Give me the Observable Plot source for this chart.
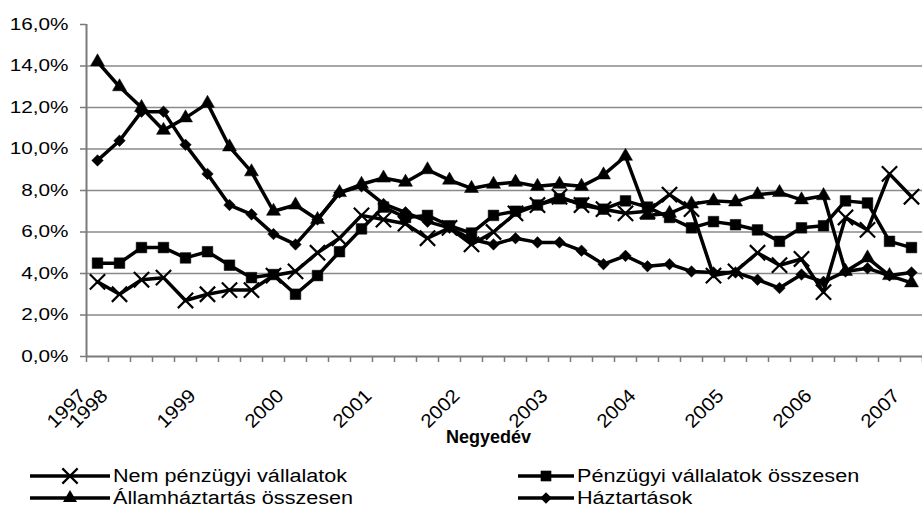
<!DOCTYPE html>
<html>
<head>
<meta charset="utf-8">
<script src="https://cdn.jsdelivr.net/npm/d3@7"></script>
<script src="https://cdn.jsdelivr.net/npm/@observablehq/plot@0.6"></script>
<style>
  html, body { margin: 0; padding: 0; background: #fff; }
  body { width: 922px; height: 513px; position: relative; overflow: hidden;
         font-family: "Liberation Sans", Arial, sans-serif; color: #000; }
  #chart { position: absolute; left: 0; top: 0; }
  .lg { position: absolute; display: flex; align-items: center; height: 22px; }
  .lg span { font-size: 18px; display: inline-block; transform: scaleX(1.2); transform-origin: left center; white-space: nowrap; }
  .lg svg { display: block; }
</style>
</head>
<body>
<div id="chart"></div>
<div id="legend"></div>
<script>
// ---- Data ----
const quarters = [
  "1997 Q4",
  "1998 Q1","1998 Q2","1998 Q3","1998 Q4",
  "1999 Q1","1999 Q2","1999 Q3","1999 Q4",
  "2000 Q1","2000 Q2","2000 Q3","2000 Q4",
  "2001 Q1","2001 Q2","2001 Q3","2001 Q4",
  "2002 Q1","2002 Q2","2002 Q3","2002 Q4",
  "2003 Q1","2003 Q2","2003 Q3","2003 Q4",
  "2004 Q1","2004 Q2","2004 Q3","2004 Q4",
  "2005 Q1","2005 Q2","2005 Q3","2005 Q4",
  "2006 Q1","2006 Q2","2006 Q3","2006 Q4",
  "2007 Q1"
];
const tickQuarters = ["1997 Q4","1998 Q1","1999 Q1","2000 Q1","2001 Q1","2002 Q1","2003 Q1","2004 Q1","2005 Q1","2006 Q1","2007 Q1"];
const tickLabels   = ["1997","1998","1999","2000","2001","2002","2003","2004","2005","2006","2007"];
const yTicks = [0, 2, 4, 6, 8, 10, 12, 14, 16];

const seriesNames = ["Nem pénzügyi vállalatok", "Pénzügyi vállalatok összesen", "Államháztartás összesen", "Háztartások"];

const nemPenzugyi = [3.6, 3.0, 3.7, 3.8, 2.7, 3.0, 3.2, 3.2, 3.9, 4.1,
  5.0, 5.7, 6.8, 6.6, 6.4, 5.7, 6.2, 5.4, 6.0, 6.9,
  7.3, 7.7, 7.3, 7.1, 6.9, 7.0, 7.8, 7.1, 3.9, 4.1,
  5.0, 4.4, 4.7, 3.1, 6.7, 6.1, 8.8, 7.7];
const penzugyi = [4.5, 4.5, 5.25, 5.25, 4.75, 5.05, 4.4, 3.8, 3.95, 3.0,
  3.9, 5.05, 6.15, 7.2, 6.7, 6.8, 6.3, 5.95, 6.8, 7.0,
  7.3, 7.6, 7.4, 7.1, 7.5, 7.2, 6.7, 6.2, 6.5, 6.35,
  6.1, 5.55, 6.2, 6.3, 7.5, 7.4, 5.55, 5.25];
const allamhaztartas = [14.2, 13.0, 12.0, 10.9, 11.5, 12.2, 10.1, 8.9, 7.0, 7.3,
  6.6, 7.9, 8.3, 8.6, 8.4, 9.0, 8.5, 8.1, 8.3, 8.4,
  8.2, 8.3, 8.2, 8.75, 9.65, 6.8, 6.9, 7.35, 7.5, 7.45,
  7.8, 7.9, 7.55, 7.75, 4.1, 4.75, 3.9, 3.55];
const haztartasok = [9.45, 10.4, 11.8, 11.8, 10.2, 8.8, 7.3, 6.85, 5.9, 5.4,
  6.6, 7.9, 8.2, 7.35, 6.95, 6.5, 6.2, 5.65, 5.4, 5.7,
  5.5, 5.5, 5.1, 4.45, 4.85, 4.35, 4.45, 4.1, 4.05, 4.05,
  3.7, 3.3, 3.95, 3.6, 4.1, 4.25, 3.9, 4.05];

// ---- Build tables ----
const seriesValues = [nemPenzugyi, penzugyi, allamhaztartas, haztartasok];
const symbolNames = ["times", "square", "triangle", "diamond2"];
const d3Symbols = [d3.symbolTimes, d3.symbolSquare, d3.symbolTriangle, d3.symbolDiamond2];
const symbolR = [7.0, 6.0, 5.2, 5.2];

const tables = seriesValues.map((vals, s) =>
  vals.map((v, i) => ({q: i, quarter: quarters[i], v, name: seriesNames[s]})));

const nQ = quarters.length;
const boundaries = d3.range(nQ + 1).map(i => i - 0.5);
const tickIdx = tickQuarters.map(q => quarters.indexOf(q));
const labelOf = new Map(tickIdx.map((i, k) => [i, tickLabels[k]]));

const gridColor = "#8a8a8a";
const W = 922, H = 452, plotBottom = 356, plotTop = 24;

const seriesMarks = [];
tables.forEach((t, s) => {
  seriesMarks.push(Plot.lineY(t, {x: "q", y: "v", stroke: "#000", strokeWidth: 3.5, strokeLinejoin: "round"}));
  if (symbolNames[s] === "times") {
    seriesMarks.push(Plot.dot(t, {x: "q", y: "v", symbol: "times", r: symbolR[s], stroke: "#000", strokeWidth: 2.2, fill: "none"}));
  } else {
    seriesMarks.push(Plot.dot(t, {x: "q", y: "v", symbol: symbolNames[s], r: symbolR[s], fill: "#000", stroke: "#000", strokeWidth: 0.5}));
  }
});

const fmtPct = d => d.toFixed(1).replace(".", ",") + "%";

const chart = Plot.plot({
  width: W, height: H,
  marginLeft: 86, marginRight: 0, marginTop: plotTop, marginBottom: H - plotBottom,
  x: {domain: [-0.5, nQ - 0.5]},
  y: {domain: [0, 16]},
  style: {fontFamily: "'Liberation Sans', Arial, sans-serif", background: "#fff", color: "#000", overflow: "visible"},
  marks: [
    Plot.ruleY(yTicks.filter(d => d > 0 && d < 16), {x1: -0.5, x2: nQ - 0.5, stroke: gridColor, strokeWidth: 1.4}),
    Plot.ruleY([0], {x1: -0.5, x2: nQ - 0.5, stroke: "#7a7a7a", strokeWidth: 2}),
    Plot.ruleX([-0.5], {y1: 0, y2: 16, stroke: "#7a7a7a", strokeWidth: 2}),
    Plot.axisY({ticks: yTicks, tickSize: 6, tickPadding: 12, tickFormat: fmtPct, fontSize: 17, stroke: "#7a7a7a", strokeWidth: 1.5, label: null}),
    Plot.axisX({ticks: boundaries, tickSize: 6, tickFormat: () => "", stroke: "#7a7a7a", strokeWidth: 1.5, label: null}),
    Plot.axisX({ticks: tickIdx, tickSize: 0, tickPadding: 36, tickRotate: -45, dx: -15, fontSize: 19, tickFormat: i => labelOf.get(i), label: null}),
    ...seriesMarks,
    Plot.text(["Negyedév"], {frameAnchor: "bottom", dy: 86, dx: -16, fontWeight: "bold", fontSize: 18})
  ]
});
document.getElementById("chart").appendChild(chart);

// stretch tick labels slightly to match the reference's wide glyphs
chart.querySelectorAll('g[aria-label="y-axis tick label"] text').forEach(t => {
  const w = t.getComputedTextLength();
  t.setAttribute("textLength", (w * 1.22).toFixed(1));
  t.setAttribute("lengthAdjust", "spacingAndGlyphs");
});
chart.querySelectorAll('g[aria-label="x-axis tick label"] text').forEach(t => {
  const w = t.getComputedTextLength();
  if (w > 0) {
    t.setAttribute("textLength", (w * 1.08).toFixed(1));
    t.setAttribute("lengthAdjust", "spacingAndGlyphs");
  }
});

// ---- Legend ----
const legendPos = [
  {left: 30, top: 465, keyW: 80},
  {left: 518, top: 465, keyW: 56},
  {left: 30, top: 487, keyW: 80},
  {left: 518, top: 487, keyW: 56}
];
const legend = document.getElementById("legend");
seriesNames.forEach((name, s) => {
  const p = legendPos[s];
  const div = document.createElement("div");
  div.className = "lg";
  div.style.left = p.left + "px";
  div.style.top = p.top + "px";
  const svg = d3.create("svg").attr("width", p.keyW + 3).attr("height", 22);
  svg.append("line").attr("x1", 0).attr("x2", p.keyW).attr("y1", 11).attr("y2", 11)
    .attr("stroke", "#000").attr("stroke-width", 3.5);
  const size = Math.PI * symbolR[s] * symbolR[s];
  const path = svg.append("path").attr("d", d3.symbol(d3Symbols[s], size)())
    .attr("transform", `translate(${p.keyW / 2},11)`);
  if (symbolNames[s] === "times") path.attr("fill", "none").attr("stroke", "#000").attr("stroke-width", 2.2);
  else path.attr("fill", "#000");
  div.appendChild(svg.node());
  const span = document.createElement("span");
  span.textContent = name;
  div.appendChild(span);
  legend.appendChild(div);
});
</script>
</body>
</html>
